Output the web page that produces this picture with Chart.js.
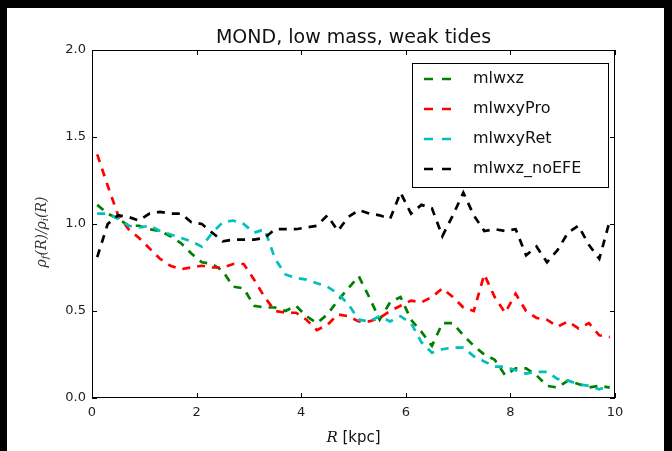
<!DOCTYPE html>
<html>
<head>
<meta charset="utf-8">
<script src="https://cdn.jsdelivr.net/npm/chart.js@4"></script>
<style>
  html, body { margin: 0; padding: 0; background: #000; }
  #wrap { position: absolute; left: 7px; top: 8px; width: 657px; height: 443px; background: #fff; }
</style>
</head>
<body>
<div id="wrap"><canvas id="chart"></canvas></div>
<script>
// radius bins [kpc]
var R = [0.1, 0.3, 0.5, 0.7, 0.9, 1.1, 1.3, 1.5, 1.7, 1.9,
         2.1, 2.3, 2.5, 2.7, 2.9, 3.1, 3.3, 3.5, 3.7, 3.9,
         4.1, 4.3, 4.5, 4.7, 4.9, 5.1, 5.3, 5.5, 5.7, 5.9,
         6.1, 6.3, 6.5, 6.7, 6.9, 7.1, 7.3, 7.5, 7.7, 7.9,
         8.1, 8.3, 8.5, 8.7, 8.9, 9.1, 9.3, 9.5, 9.7, 9.9];

var mlwxz = [1.11, 1.06, 1.03, 0.99, 0.99, 0.97, 0.96, 0.93, 0.89, 0.83,
             0.78, 0.77, 0.73, 0.64, 0.63, 0.53, 0.52, 0.52, 0.50, 0.53,
             0.47, 0.43, 0.48, 0.56, 0.63, 0.70, 0.58, 0.45, 0.55, 0.58,
             0.45, 0.38, 0.30, 0.43, 0.43, 0.36, 0.30, 0.25, 0.22, 0.13,
             0.17, 0.17, 0.13, 0.07, 0.06, 0.10, 0.08, 0.06, 0.07, 0.06];

var mlwxyPro = [1.40, 1.22, 1.05, 0.97, 0.92, 0.86, 0.80, 0.76, 0.74, 0.75,
                0.76, 0.75, 0.75, 0.77, 0.77, 0.68, 0.58, 0.50, 0.49, 0.49,
                0.45, 0.39, 0.42, 0.48, 0.47, 0.44, 0.44, 0.46, 0.50, 0.53,
                0.56, 0.55, 0.58, 0.63, 0.58, 0.52, 0.50, 0.71, 0.58, 0.49,
                0.60, 0.50, 0.46, 0.45, 0.41, 0.44, 0.40, 0.43, 0.36, 0.35];

var mlwxyRet = [1.06, 1.06, 1.03, 0.99, 0.98, 0.99, 0.96, 0.94, 0.92, 0.90,
                0.87, 0.95, 1.01, 1.02, 1.00, 0.95, 0.97, 0.80, 0.71, 0.69,
                0.68, 0.66, 0.64, 0.60, 0.54, 0.45, 0.44, 0.47, 0.44, 0.47,
                0.43, 0.32, 0.26, 0.28, 0.29, 0.29, 0.24, 0.21, 0.18, 0.18,
                0.16, 0.14, 0.15, 0.15, 0.11, 0.10, 0.08, 0.07, 0.05, 0.07];

var mlwxz_noEFE = [0.81, 1.00, 1.05, 1.04, 1.02, 1.06, 1.07, 1.06, 1.06, 1.01,
                   1.00, 0.95, 0.90, 0.91, 0.91, 0.91, 0.92, 0.97, 0.97, 0.97,
                   0.98, 0.99, 1.05, 0.96, 1.04, 1.08, 1.06, 1.05, 1.03, 1.18,
                   1.06, 1.11, 1.09, 0.93, 1.05, 1.18, 1.05, 0.96, 0.97, 0.96,
                   0.97, 0.82, 0.87, 0.78, 0.85, 0.95, 0.99, 0.88, 0.80, 1.02];

var xTicks = [0, 2, 4, 6, 8, 10];
var yTicks = [0.0, 0.5, 1.0, 1.5, 2.0];

function pts(vals) {
    return vals.map(function (v, i) { return { x: R[i], y: v }; });
}

function line(label, vals, color, order) {
    return {
        label: label,
        data: pts(vals),
        borderColor: color,
        backgroundColor: color,
        borderWidth: 2.7,
        borderDash: [8, 7],
        pointRadius: 0,
        tension: 0,
        fill: false,
        order: order
    };
}

var sans = '"DejaVu Sans", sans-serif';

var decor = {
    id: 'decor',
    afterDraw: function (chart) {
        var c = chart.ctx, a = chart.chartArea;
        var xs = chart.scales.x, ys = chart.scales.y;
        c.save();
        // frame
        c.strokeStyle = '#000';
        c.lineWidth = 1;
        c.strokeRect(a.left + 0.5, a.top + 0.5, a.right - a.left - 1, a.bottom - a.top - 1);
        // inward ticks on all sides
        c.beginPath();
        xTicks.forEach(function (t) {
            var px = Math.round(xs.getPixelForValue(t)) + 0.5;
            c.moveTo(px, a.bottom); c.lineTo(px, a.bottom - 5);
            c.moveTo(px, a.top); c.lineTo(px, a.top + 5);
        });
        yTicks.forEach(function (t) {
            var py = Math.round(ys.getPixelForValue(t)) + 0.5;
            c.moveTo(a.left, py); c.lineTo(a.left + 5, py);
            c.moveTo(a.right, py); c.lineTo(a.right - 5, py);
        });
        c.stroke();

        // title
        c.fillStyle = '#111';
        c.font = '19px ' + sans;
        c.textAlign = 'center';
        c.textBaseline = 'middle';
        c.fillText('MOND, low mass, weak tides', (a.left + a.right) / 2, a.top - 12);

        // x label
        var cx = (a.left + a.right) / 2, cy = a.bottom + 40;
        c.font = 'italic 15px "DejaVu Serif", serif';
        var w1 = c.measureText('R').width;
        c.font = '15px ' + sans;
        var w2 = c.measureText(' [kpc]').width;
        var x0 = cx - (w1 + w2) / 2;
        c.textAlign = 'left';
        c.font = 'italic 15px "DejaVu Serif", serif';
        c.fillText('R', x0, cy);
        c.font = '15px ' + sans;
        c.fillText(' [kpc]', x0 + w1, cy);

        // y label (rotated)
        c.save();
        c.translate(a.left - 50, (a.top + a.bottom) / 2 + 8);
        c.rotate(-Math.PI / 2);
        var parts = [['ρ', 14, 0], ['f', 10, 3], ['(R)/', 14, 0], ['ρ', 14, 0], ['i', 10, 3], ['(R)', 14, 0]];
        var tot = 0;
        parts.forEach(function (p) {
            c.font = 'italic ' + p[1] + 'px "DejaVu Serif", serif';
            tot += c.measureText(p[0]).width;
        });
        var px = -tot / 2;
        c.fillStyle = '#333';
        c.textBaseline = 'middle';
        parts.forEach(function (p) {
            c.font = 'italic ' + p[1] + 'px "DejaVu Serif", serif';
            c.fillText(p[0], px, p[2]);
            px += c.measureText(p[0]).width;
        });
        c.restore();

        // legend
        var lx = a.right - 203, ly = a.top + 13, lw = 196, lh = 124;
        c.fillStyle = '#fff';
        c.fillRect(lx, ly, lw, lh);
        c.strokeStyle = '#000';
        c.lineWidth = 1;
        c.strokeRect(lx + 0.5, ly + 0.5, lw, lh);
        c.font = '16px ' + sans;
        c.textAlign = 'left';
        c.textBaseline = 'middle';
        chart.data.datasets.forEach(function (ds, k) {
            var ry = ly + 16 + k * 30;
            c.beginPath();
            c.setLineDash([9, 9]);
            c.lineWidth = 2.7;
            c.strokeStyle = ds.borderColor;
            c.moveTo(lx + 12, ry); c.lineTo(lx + 39, ry);
            c.stroke();
            c.setLineDash([]);
            c.fillStyle = '#111';
            c.fillText(ds.label, lx + 61, ry);
        });
        c.restore();
    }
};

new Chart(document.getElementById('chart'), {
    type: 'line',
    data: {
        datasets: [
            line('mlwxz', mlwxz, '#008000', 4),
            line('mlwxyPro', mlwxyPro, '#ff0000', 3),
            line('mlwxyRet', mlwxyRet, '#00bfbf', 2),
            line('mlwxz_noEFE', mlwxz_noEFE, '#000000', 1)
        ]
    },
    options: {
        responsive: true,
        maintainAspectRatio: false,
        animation: false,
        layout: { padding: { top: 42, right: 49, left: 0, bottom: 0 } },
        plugins: {
            legend: { display: false },
            title: { display: false },
            tooltip: { enabled: false }
        },
        scales: {
            x: {
                type: 'linear',
                min: 0, max: 10,
                grid: { display: false, drawTicks: false },
                border: { display: false },
                ticks: { stepSize: 2, padding: 7, color: '#222', font: { family: 'DejaVu Sans', size: 13 }, maxRotation: 0 },
                afterFit: function (s) { s.height = 53; }
            },
            y: {
                min: 0, max: 2,
                grid: { display: false, drawTicks: false },
                border: { display: false },
                ticks: {
                    stepSize: 0.5, padding: 6, color: '#222',
                    font: { family: 'DejaVu Sans', size: 13 },
                    callback: function (v) { return v.toFixed(1); }
                },
                afterFit: function (s) { s.width = 85; }
            }
        }
    },
    plugins: [decor]
});
</script>
</body>
</html>
